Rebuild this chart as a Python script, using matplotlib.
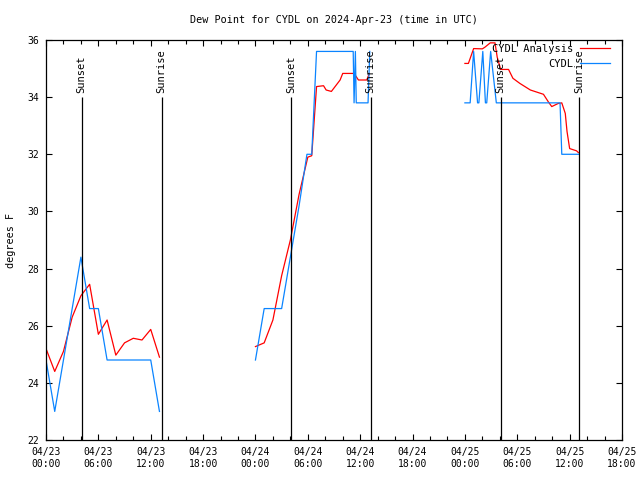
import numpy as np
import pandas as pd
import matplotlib
matplotlib.use("Agg")
import matplotlib.pyplot as plt
import matplotlib.dates as mdates

# hours after 2024-04-23 00:00 UTC
ana_hours = [0, 1, 2, 3, 4, 5, 6, 7, 8, 9, 10, 11, 12, 13, np.nan,
             24, 25, 26, 27, 28, 29, 30, 30.45, 31, 31.8, 32.1, 32.7, 33.7, 34, 35.3, 35.8, 36.75, 37.05, np.nan,
             48, 48.4, 49, 50, 50.3, 50.9, 51.45, 51.7, 52.1, 53.0, 53.5, 54.3, 55.5, 57.0, 57.55, 57.95,
             58.7, 59.1, 59.5, 59.7, 60.0, 60.8, 61.0]
ana_vals = [25.2, 24.4, 25.1, 26.3, 27.05, 27.45, 25.7, 26.2, 24.97, 25.4, 25.56, 25.5, 25.87, 24.9, np.nan,
            25.27, 25.4, 26.2, 27.75, 29.0, 30.6, 31.9, 31.95, 34.37, 34.4, 34.25, 34.2, 34.6, 34.83, 34.83, 34.6, 34.6, 34.83, np.nan,
            35.18, 35.18, 35.7, 35.69, 35.75, 35.9, 35.9, 35.4, 34.97, 34.97, 34.66, 34.48, 34.25, 34.1, 33.84, 33.67,
            33.78, 33.8, 33.43, 32.8, 32.2, 32.12, 32.06]

obs_hours = [0, 1, 2, 3, 4, 5, 6, 7, 8, 9, 10, 11, 12, 13, np.nan,
             24, 25, 26, 27, 28, 29, 29.9, 30.45, 31, 32, 33, 34, 35, 35.2, 35.3, 35.45, 35.55, 36, 36.9, 37.1, np.nan,
             48, 48.6, 49.0, 49.45, 49.6, 50.05, 50.35, 50.5, 50.95, 51.6, 52, 53, 54, 55, 56, 57, 58, 58.9,
             59.1, 60, 61]
obs_vals = [24.8, 23.0, 24.8, 26.6, 28.4, 26.6, 26.6, 24.8, 24.8, 24.8, 24.8, 24.8, 24.8, 23.0, np.nan,
            24.8, 26.6, 26.6, 26.6, 28.4, 30.2, 32.0, 32.0, 35.6, 35.6, 35.6, 35.6, 35.6, 35.6, 33.8, 35.6, 33.8, 33.8, 33.8, 35.6, np.nan,
            33.8, 33.8, 35.6, 33.8, 33.8, 35.6, 33.8, 33.8, 35.6, 33.8, 33.8, 33.8, 33.8, 33.8, 33.8, 33.8, 33.8, 33.8,
            32.0, 32.0, 32.0]

sunset_hours = [4.07, 28.1, 52.1]
sunrise_hours = [13.25, 37.2, 61.05]

base = mdates.date2num(pd.Timestamp("2024-04-23 00:00").to_pydatetime())


def to_time(hours):
    return base + np.asarray(hours, dtype=float) / 24.0


plt.rcParams['font.family'] = ['DejaVu Sans Mono']
plt.rcParams['font.size'] = 7

fig = plt.figure(figsize=(6.4, 4.8), dpi=100)
ax = fig.add_axes([46 / 640, 1 - 440 / 480, 576 / 640, 400 / 480])
ax.xaxis_date()

ax.plot(to_time(ana_hours), ana_vals, color='#ff0000', lw=0.9, label='CYDL Analysis')
ax.plot(to_time(obs_hours), obs_vals, color='#0a84ff', lw=0.9, label='CYDL')

ax.vlines(to_time(sunset_hours), 22, 34, color='black', lw=0.9)
ax.vlines(to_time(sunrise_hours), 22, 34, color='black', lw=0.9)
for t in to_time(sunset_hours):
    ax.text(t, 34.15, 'Sunset', rotation=90, ha='center', va='bottom', fontsize=7.5)
for t in to_time(sunrise_hours):
    ax.text(t, 34.15, 'Sunrise', rotation=90, ha='center', va='bottom', fontsize=7.5)

ax.set_xlim(base, base + 66 / 24.0)
ax.set_ylim(22, 36)
ax.set_yticks(np.arange(22, 37, 2))
ax.xaxis.set_major_locator(mdates.HourLocator(byhour=[0, 6, 12, 18]))
ax.xaxis.set_minor_locator(mdates.HourLocator(byhour=range(0, 24, 2)))
ax.xaxis.set_major_formatter(mdates.DateFormatter('%m/%d\n%H:%M'))
ax.tick_params(which='both', direction='in', top=True, right=True, width=0.8)
ax.tick_params(which='major', length=4, pad=5)
ax.tick_params(which='minor', length=3)
for s in ax.spines.values():
    s.set_linewidth(0.9)

ax.set_title('Dew Point for CYDL on 2024-Apr-23 (time in UTC)', fontsize=7.3, pad=12)
ax.set_ylabel('degrees F', labelpad=8, fontsize=7.3)

ax.legend(loc='upper right', bbox_to_anchor=((610 - 46) / 576, 0.99), frameon=False,
          markerfirst=False, borderpad=0, borderaxespad=0, handlelength=2.9,
          handletextpad=0.6, labelspacing=0.45, fontsize=7.5)

fig.savefig('out.png', dpi=100)
